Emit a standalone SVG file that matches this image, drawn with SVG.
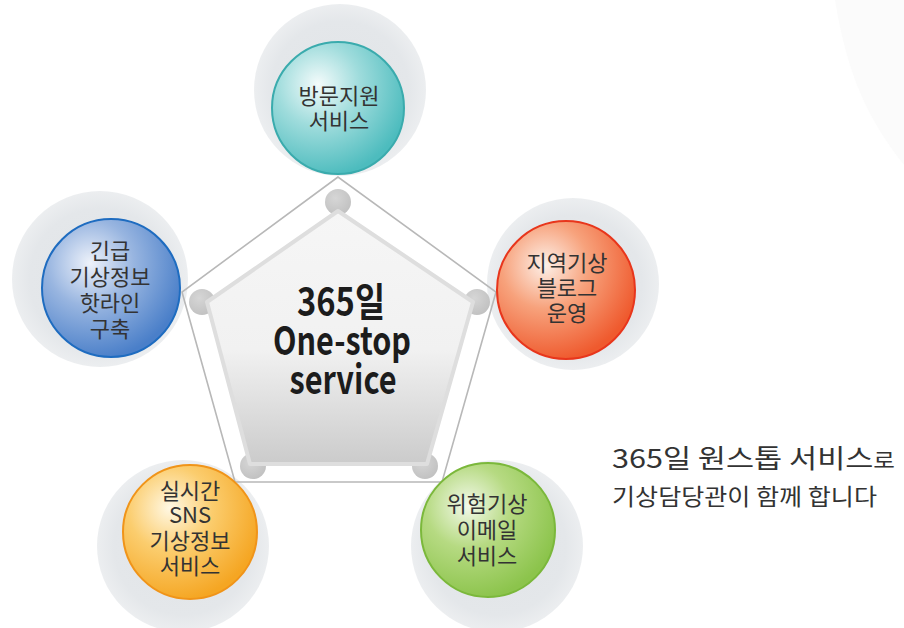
<svg xmlns="http://www.w3.org/2000/svg" width="904" height="628" viewBox="0 0 904 628">
<defs>
<radialGradient id="halo" cx="50%" cy="50%" r="50%">
<stop offset="0" stop-color="#e1e4e7"/>
<stop offset="0.8" stop-color="#e4e7ea"/>
<stop offset="1" stop-color="#eceef0"/>
</radialGradient>
<radialGradient id="gTeal" cx="35%" cy="32%" r="70%">
<stop offset="0" stop-color="#f4fbfb"/>
<stop offset="0.45" stop-color="#9fdcdc"/>
<stop offset="1" stop-color="#4dbcbe"/>
</radialGradient>
<radialGradient id="gBlue" cx="35%" cy="32%" r="70%">
<stop offset="0" stop-color="#eef2fa"/>
<stop offset="0.45" stop-color="#98b5e0"/>
<stop offset="1" stop-color="#4a7fc9"/>
</radialGradient>
<radialGradient id="gRed" cx="35%" cy="32%" r="70%">
<stop offset="0" stop-color="#fdf0e8"/>
<stop offset="0.45" stop-color="#f7a27c"/>
<stop offset="1" stop-color="#ef5a2e"/>
</radialGradient>
<radialGradient id="gOrange" cx="35%" cy="32%" r="70%">
<stop offset="0" stop-color="#fff8e4"/>
<stop offset="0.45" stop-color="#fbcd6e"/>
<stop offset="1" stop-color="#f5a623"/>
</radialGradient>
<radialGradient id="gGreen" cx="35%" cy="32%" r="70%">
<stop offset="0" stop-color="#f3f9ea"/>
<stop offset="0.45" stop-color="#b6da82"/>
<stop offset="1" stop-color="#8cc44c"/>
</radialGradient>
<radialGradient id="knob" cx="40%" cy="35%" r="65%">
<stop offset="0" stop-color="#d6d6d6"/>
<stop offset="1" stop-color="#c2c2c2"/>
</radialGradient>
<linearGradient id="pent" x1="0" y1="0" x2="0" y2="1">
<stop offset="0" stop-color="#f6f6f6"/>
<stop offset="0.55" stop-color="#f1f1f1"/>
<stop offset="1" stop-color="#cbcbcb"/>
</linearGradient>
</defs>
<style>
.halo{fill:url(#halo)}
.lbl{font-family:"Noto Sans CJK KR","Noto Sans",sans-serif;font-size:22px;fill:#333;text-anchor:middle}
.ctr{font-family:"Noto Sans CJK KR","Noto Sans",sans-serif;font-size:39px;font-weight:700;fill:#1c1c1c;text-anchor:middle}
.side{font-family:"Noto Sans CJK KR","Noto Sans",sans-serif;fill:#333}
.knob{fill:url(#knob)}
.edge{fill:none;stroke:#b8b8b8;stroke-width:1.6}
</style>
<rect width="904" height="628" fill="#fff"/>
<path d="M835,0 C845,60 860,110 904,165 L904,0 Z" fill="#fbfbfb"/>

<g id="halos">
<circle class="halo" cx="340" cy="90" r="86"/>
<circle class="halo" cx="100" cy="279" r="88"/>
<circle class="halo" cx="573" cy="284" r="86"/>
<circle class="halo" cx="183" cy="546" r="86"/>
<circle class="halo" cx="497" cy="546" r="86"/>
</g>

<g id="connectors">
<polygon class="edge" points="338,177 182,292 235,482 442,482 496,292"/>
</g>

<g id="center">
<circle class="knob" cx="338" cy="202" r="13"/>
<circle class="knob" cx="202" cy="302" r="13"/>
<circle class="knob" cx="477" cy="302" r="13"/>
<circle class="knob" cx="253" cy="466" r="13"/>
<circle class="knob" cx="425" cy="466" r="13"/>
<polygon points="338,211 207,302 250,464 427,464 473,302" fill="url(#pent)" stroke="#dedede" stroke-width="4" stroke-linejoin="round"/>
<text class="ctr"><tspan x="341" y="316" textLength="88" lengthAdjust="spacingAndGlyphs">365일</tspan><tspan x="342" y="355" textLength="138" lengthAdjust="spacingAndGlyphs">One-stop</tspan><tspan x="343" y="394" textLength="107" lengthAdjust="spacingAndGlyphs">service</tspan></text>
</g>

<g id="n-visit">
<circle cx="338" cy="108" r="66" fill="url(#gTeal)" stroke="#3aabad" stroke-width="2"/>
<text class="lbl"><tspan x="339" y="104">방문지원</tspan><tspan x="339" y="129">서비스</tspan></text>
</g>

<g id="n-hotline">
<circle cx="111" cy="288" r="69" fill="url(#gBlue)" stroke="#1e6cc0" stroke-width="2"/>
<text class="lbl"><tspan x="110" y="259">긴급</tspan><tspan x="110" y="285">기상정보</tspan><tspan x="110" y="311">핫라인</tspan><tspan x="110" y="337">구축</tspan></text>
</g>

<g id="n-blog">
<circle cx="566" cy="290" r="69" fill="url(#gRed)" stroke="#e8361c" stroke-width="2"/>
<text class="lbl"><tspan x="567" y="271">지역기상</tspan><tspan x="567" y="296">블로그</tspan><tspan x="567" y="321">운영</tspan></text>
</g>

<g id="n-sns">
<circle cx="190" cy="532" r="67" fill="url(#gOrange)" stroke="#f09419" stroke-width="2"/>
<text class="lbl"><tspan x="190" y="499">실시간</tspan><tspan x="190" y="523">SNS</tspan><tspan x="190" y="549">기상정보</tspan><tspan x="190" y="574">서비스</tspan></text>
</g>

<g id="n-email">
<circle cx="488" cy="530" r="67" fill="url(#gGreen)" stroke="#7bb83b" stroke-width="2"/>
<text class="lbl"><tspan x="487" y="512">위험기상</tspan><tspan x="487" y="538">이메일</tspan><tspan x="487" y="564">서비스</tspan></text>
</g>

<g id="caption">
<text class="side" font-size="26"><tspan x="612" y="468" textLength="283" lengthAdjust="spacingAndGlyphs">365일 원스톱 서비스<tspan font-size="20">로</tspan></tspan><tspan x="612" y="505" font-size="23" textLength="265" lengthAdjust="spacingAndGlyphs">기상담당관이 함께 합니다</tspan></text>
</g>
</svg>
